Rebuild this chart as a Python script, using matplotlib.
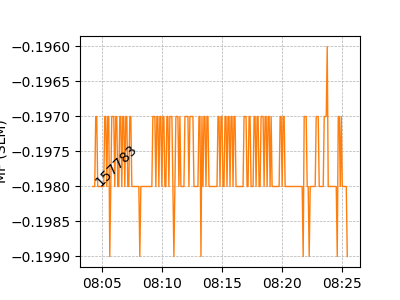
import numpy as np
import matplotlib
matplotlib.use("Agg")
import matplotlib.pyplot as plt
import matplotlib.dates as mdates
from matplotlib.ticker import ScalarFormatter

L, H, D, S = -0.198, -0.197, -0.199, -0.196

# run-length readout of the series (value, number of 5 s samples)
run_values = [L, H, L, H, L, H, D, L, H, L, H, L, H, L, H, L, H, L, H, L, D, L,
              H, L, H, L, H, L, H, L, H, L, H, H, L, D, L, H, L, H, L, H, L, H, L,
              H, D, H, L, H, L, H, L, H, L, H, L, H, L, H, L, H, L, H, L,
              H, L, H, L, H, L, H, L, H, L, H, L, H, L, H, L, H, L, H, L,
              D, H, L, D, L, H, L, H, S, L, D, H, L, H, L, D]
run_counts = [3, 2, 7, 2, 1, 2, 1, 1, 3, 1, 2, 2, 2, 1, 2, 1, 2, 2, 2, 8, 1, 12,
              3, 1, 2, 1, 2, 1, 2, 2, 2, 1, 2, 1, 1, 1, 1, 3, 1, 1, 4, 4, 1, 4, 5,
              2, 1, 1, 1, 2, 1, 2, 9, 2, 1, 2, 2, 2, 1, 2, 1, 2, 1, 2, 8,
              3, 2, 2, 3, 2, 1, 2, 2, 3, 1, 2, 1, 2, 1, 1, 8, 2, 1, 2, 18,
              1, 3, 2, 1, 6, 3, 5, 3, 1, 9, 1, 2, 1, 1, 5, 1]

start_time = np.datetime64("2023-01-01T08:04:15")
sample_step_s = 5
annotation = "157783"

values = np.repeat(run_values, run_counts)
times = start_time + np.arange(len(values)) * np.timedelta64(sample_step_s, "s")
times = times.astype("datetime64[ms]").astype(object)

fig = plt.figure(figsize=(4, 3), dpi=100)
ax = fig.add_axes([0.2, 0.11, 0.7, 0.77])
ax.plot(times, values, color="#ff7f0e", linewidth=1)
ax.text(times[0], values[0], annotation, rotation=45, fontsize=10)
ax.grid(True, linestyle="--", linewidth=0.5)
ax.set_ylabel("MF (SLM)", labelpad=1)
ax.xaxis.set_major_locator(mdates.MinuteLocator(byminute=range(0, 60, 5)))
ax.xaxis.set_major_formatter(mdates.DateFormatter("%H:%M"))
ax.yaxis.set_major_formatter(ScalarFormatter(useOffset=False))
ax.set_yticks([-0.196, -0.1965, -0.197, -0.1975, -0.198, -0.1985, -0.199])
fig.savefig("out.png", dpi=100)
